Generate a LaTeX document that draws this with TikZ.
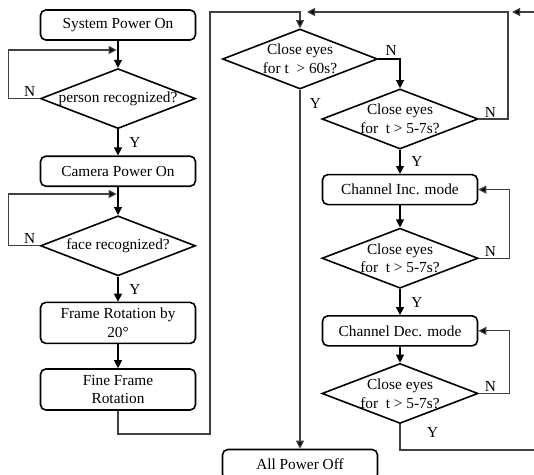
\documentclass[tikz,border=0pt]{standalone}
\usepackage{fontspec}
\setmainfont{Liberation Serif}
\usetikzlibrary{
  arrows.meta,
  positioning,
  shapes.geometric,
}

\begin{document}
\begin{tikzpicture}[x=0.75pt,y=-0.75pt,font=\fontsize{11.5}{14}\selectfont]%
\tikzstyle{stepbox}=[rectangle,rounded corners=4pt,draw,line width=1.2pt,minimum width=116.25pt,minimum height=22.5pt,align=center,inner sep=1pt]
\tikzstyle{tallbox}=[stepbox,minimum height=30.75pt]
\tikzstyle{decision}=[diamond,draw,line width=1.2pt,minimum width=116.25pt,minimum height=45pt,align=center,inner sep=0pt,aspect=2.6]
\tikzstyle{arrow}=[-{Triangle[length=6pt,width=6pt,fill=black]},line width=0.9pt]
\tikzstyle{line}=[draw=black!75,line width=0.8pt]
\tikzstyle{lbl}=[inner sep=1pt]
\clip (0,0) rectangle (534,474);
% left column
\node[stepbox] (sys) at (118,25) {System Power On};
\node[decision] (person) [below=20.25pt of sys] {person recognized?};
\node[stepbox] (cam) [below=19.5pt of person] {Camera Power On};
\node[decision] (face) [below=21pt of cam] {face recognized?};
\node[tallbox] (frame) [below=18.75pt of face] {Frame Rotation by\\20°};
\node[tallbox] (fine) [below=18pt of frame] {Fine Frame\\Rotation};
% right column
\node[decision] (long) at (300,59) {Close eyes\\for t~ > 60s?};
\node[decision] (shortA) at (400,119) {Close eyes\\for~ t > 5-7s?};
\node[stepbox] (inc) [below=18pt of shortA] {Channel Inc. mode};
\node[decision] (shortB) [below=16.5pt of inc] {Close eyes\\for~ t > 5-7s?};
\node[stepbox] (dec) [below=19.5pt of shortB] {Channel Dec. mode};
\node[decision] (shortC) [below=12pt of dec] {Close eyes\\for~ t > 5-7s?};
\node[stepbox] (off) at (300,464.5) {All Power Off};
% junctions
\coordinate (j1) at (118,50);
\coordinate (j2) at (118,194);
\coordinate (c1) at (210,434);
\coordinate (c2) at (210,12);
\coordinate (jt) at (307,12);
\coordinate (r1) at (508,12);
\coordinate (e1) at (534,12);
\coordinate (e2) at (534,450);
% left connectors
\draw[arrow] (sys) -- (person);
\draw[line,arrow,shorten >=1pt] (person.west) node[lbl,above left=0pt and 2pt]{N} -- ++(-31,0) |- (j1);
\draw[arrow] (person) -- node[lbl,right=7pt]{Y} (cam);
\draw[arrow] (cam) -- (face);
\draw[line,arrow,shorten >=1pt] (face.west) node[lbl,above left=0pt and 2pt]{N} -- ++(-31,0) |- (j2);
\draw[arrow] (face) -- node[lbl,right=7pt]{Y} (frame);
\draw[arrow] (frame) -- (fine);
\draw[line,arrow] (fine.south) |- (c1) -- (c2) -| (long.north);
% right connectors
\draw[arrow] (long.east) node[lbl,above right=1pt and 4pt]{N} -| (shortA.north);
\draw[line,arrow] (long.south) node[lbl,below right=5pt and 6pt]{Y} -- (off.north);
\draw[line,arrow] (shortA.east) node[lbl,above right=0pt and 3pt]{N} -| (r1) -- (jt);
\draw[line,arrow,shorten >=3pt] (e1) -- (r1);
\draw[arrow] (shortA) -- node[lbl,right=7pt]{Y} (inc);
\draw[arrow] (inc) -- (shortB);
\draw[line,arrow] (shortB.east) node[lbl,above right=0pt and 3pt]{N} -- ++(31,0) |- (inc.east);
\draw[arrow] (shortB) -- node[lbl,right=7pt]{Y} (dec);
\draw[arrow] (dec) -- (shortC);
\draw[line,arrow] (shortC.east) node[lbl,above right=0pt and 3pt]{N} -- ++(31,0) |- (dec.east);
\draw[line] (shortC.south) node[lbl,below right=1pt and 19pt]{Y} |- (e2);
\end{tikzpicture}
\end{document}
